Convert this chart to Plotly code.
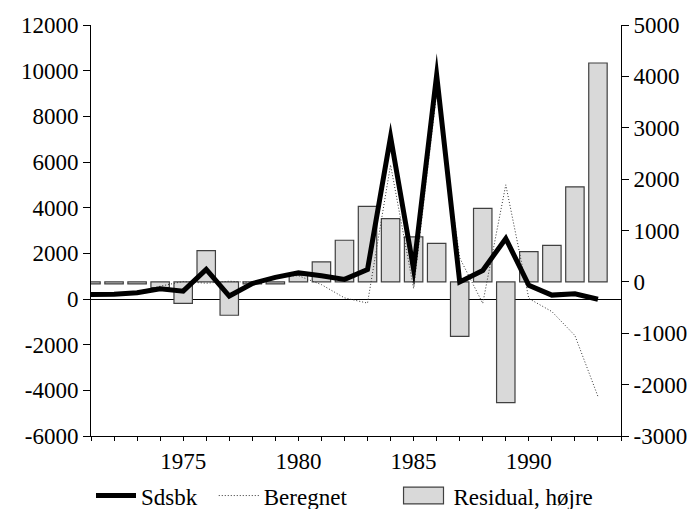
import plotly.graph_objects as go

years = list(range(1971, 1994))
sdsbk = [200, 205, 270, 450, 345, 1300, 130, 680, 945, 1150, 1015, 860, 1295,
         7100, 1300, 9800, 750, 1250, 2650, 600, 170, 230, -10]
beregnet = [240, 245, 310, 560, 765, 690, 780, 720, 985, 1020, 630, 50, -180,
            5870, 460, 9050, 1800, -190, 5000, 20, -550, -1600, -4270]
residual = [-40, -40, -40, -110, -420, 610, -650, -40, -40, 130, 388, 810, 1470,
            1230, 875, 750, -1060, 1430, -2350, 590, 710, 1850, 4260]

x_ticks = list(range(1971, 1995))
x_labels = [str(y) if y % 5 == 0 else "" for y in x_ticks]
left_ticks = list(range(-6000, 12001, 2000))
left_labels = [str(v) for v in left_ticks]
right_ticks = list(range(-3000, 5001, 1000))
right_labels = [str(v) for v in right_ticks]

FONT = "Liberation Serif"
NB = "\u00a0"

fig = go.Figure()
fig.add_trace(go.Bar(
    x=years, y=residual, name="Residual, højre", yaxis="y", width=0.8,
    marker=dict(color="#d9d9d9", line=dict(color="#404040", width=1.2)),
    legendrank=3,
))
fig.add_trace(go.Scatter(
    x=years, y=beregnet, name="Beregnet" + NB * 9, yaxis="y2", mode="lines",
    line=dict(color="#333333", width=1, dash="1px,2px"), legendrank=2,
))
fig.add_trace(go.Scatter(
    x=years, y=sdsbk, name="Sdsbk" + NB * 2, yaxis="y2", mode="lines",
    line=dict(color="black", width=5), legendrank=1,
))

fig.update_layout(
    width=697, height=509,
    margin=dict(l=91, r=76, t=25, b=73, autoexpand=False),
    paper_bgcolor="white", plot_bgcolor="white",
    font=dict(family=FONT, size=23, color="black"),
    showlegend=True,
    legend=dict(orientation="h", x=0.0, xanchor="left", y=-0.145, yanchor="middle",
                font=dict(family=FONT, size=23), bgcolor="rgba(0,0,0,0)",
                itemwidth=40, tracegroupgap=0),
    bargap=0.2,
    xaxis=dict(range=[1971, 1994], tickmode="array", tickvals=x_ticks, ticktext=x_labels,
               showline=True, linecolor="black", linewidth=1, ticks="outside",
               ticklen=4, tickcolor="black", showgrid=False, zeroline=False),
    yaxis=dict(range=[-3000, 5000], side="right", tickmode="array", tickvals=right_ticks,
               ticktext=right_labels,
               showline=True, linecolor="black", linewidth=1, ticks="outside",
               ticklen=7, tickcolor="black", showgrid=False, zeroline=False),
    yaxis2=dict(range=[-6000, 12000], side="left", overlaying="y", tickmode="array",
                tickvals=left_ticks, ticktext=left_labels, showline=True,
                linecolor="black", linewidth=1,
                ticks="outside", ticklen=7, tickcolor="black", showgrid=False,
                zeroline=True, zerolinecolor="black", zerolinewidth=1),
)

post = """
document.body.style.margin = '0';
document.body.style.overflow = 'hidden';
var gd = document.getElementById('{plot_id}');
function fixStyle(){
  gd.querySelectorAll('.scatterlayer .js-line').forEach(function(p){
    p.style.strokeLinejoin = 'miter';
    p.style.strokeMiterlimit = '30';
  });
  gd.querySelectorAll('.legend .legendpoints path').forEach(function(p){
    p.setAttribute('transform', 'translate(20,0) scale(3.33,1.4)');
    p.style.vectorEffect = 'non-scaling-stroke';
  });
}
fixStyle();
gd.on('plotly_afterplot', fixStyle);
"""
fig.write_html("out.html", post_script=post, config={"displayModeBar": False})
